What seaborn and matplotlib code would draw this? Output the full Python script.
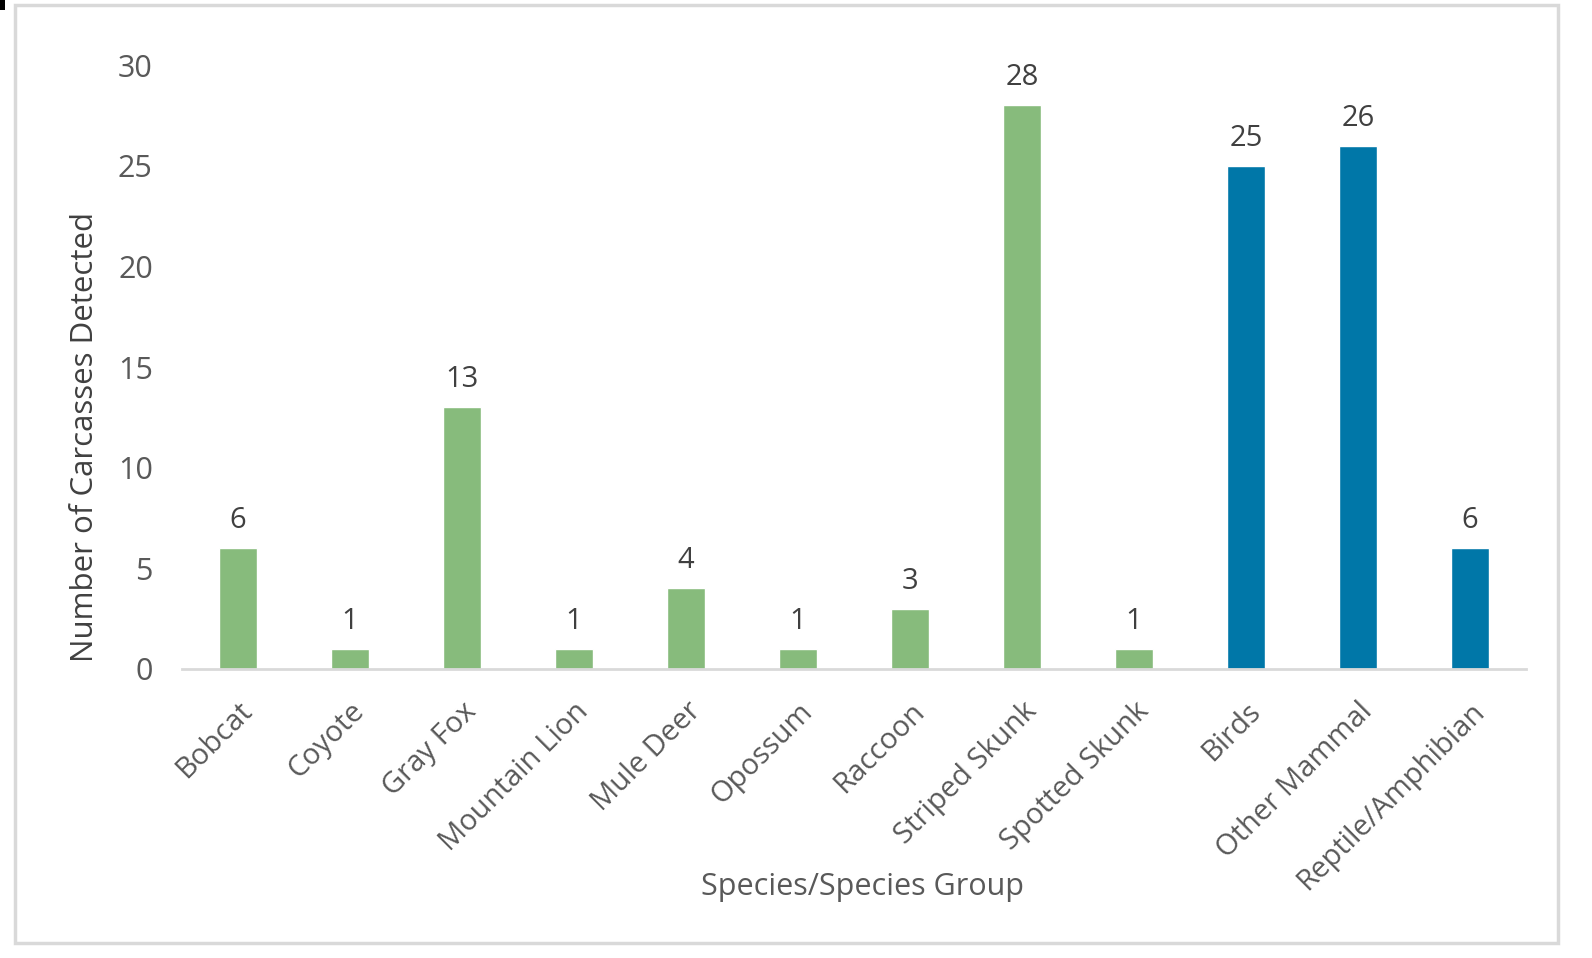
import matplotlib
matplotlib.use("Agg")
import matplotlib.pyplot as plt
import seaborn as sns
import pandas as pd
from matplotlib.patches import Rectangle

species = ['Bobcat', 'Coyote', 'Gray Fox', 'Mountain Lion', 'Mule Deer', 'Opossum',
           'Raccoon', 'Striped Skunk', 'Spotted Skunk', 'Birds', 'Other Mammal',
           'Reptile/Amphibian']
counts = [6, 1, 13, 1, 4, 1, 3, 28, 1, 25, 26, 6]
group = ['target'] * 9 + ['other'] * 3

GREEN = '#87BB7C'
BLUE = '#0077A8'
GRAY = '#595959'

df = pd.DataFrame({'species': species, 'count': counts, 'group': group})

sns.set_theme(style='white')
plt.rcParams['font.family'] = ['Open Sans', 'DejaVu Sans']

fig = plt.figure(figsize=(15.92, 9.58), dpi=100)
ax = fig.add_axes([0.1143, 0.3017, 0.8443, 0.6303])

sns.barplot(data=df, x='species', y='count', hue='group',
            palette={'target': GREEN, 'other': BLUE}, dodge=False,
            width=0.34, legend=False, ax=ax, saturation=1)

for i, v in enumerate(counts):
    ax.text(i, v + 0.65, str(v), ha='center', va='bottom', fontsize=21, color='#404040')

ax.set_ylim(0, 30)
ax.set_xlim(-0.5, len(species) - 0.5)
ax.set_yticks(range(0, 31, 5))
ax.tick_params(axis='y', labelsize=22, colors=GRAY, length=0, pad=21)
ax.tick_params(axis='x', labelsize=21, colors=GRAY, length=0, pad=20)
plt.setp(ax.get_xticklabels(), rotation=45, ha='right', rotation_mode='anchor')

ax.set_ylabel('Number of Carcasses Detected', fontsize=22.5, color='#404040', va='center')
ax.yaxis.set_label_coords(-0.072, 0.384)
ax.set_xlabel('Species/Species Group', fontsize=22, color=GRAY, va='center')
ax.xaxis.set_label_coords(0.506, -0.361)

for s in ['top', 'right', 'left']:
    ax.spines[s].set_visible(False)
ax.spines['bottom'].set_color('#D9D9D9')
ax.spines['bottom'].set_linewidth(2)

# chart border
fig.patches.append(Rectangle((15 / 1592, 1 - 943 / 958), (1558 - 15) / 1592, (943 - 5) / 958,
                             transform=fig.transFigure, fill=False,
                             edgecolor='#D9D9D9', linewidth=2.5))
fig.patches.append(Rectangle((0, 1 - 10 / 958), 5 / 1592, 10 / 958,
                             transform=fig.transFigure, facecolor='black', edgecolor='none'))

fig.savefig('out.png', dpi=100)
